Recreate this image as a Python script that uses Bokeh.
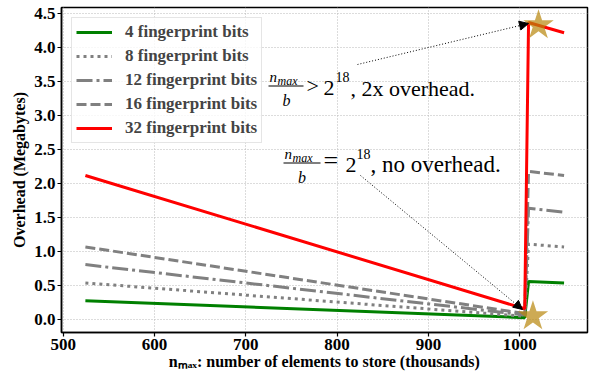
from bokeh.plotting import figure
from bokeh.models import Arrow, NormalHead, FixedTicker, Range1d
from bokeh.core.properties import value
from bokeh.embed import file_html
from bokeh.resources import INLINE

# ---------------- data (n_max in thousands, overhead in MB) ----------------
n_max = [524.3, 1005.5, 1009.7, 1048.6]
bits4 = [0.27, 0.02, 0.55, 0.53]
bits8 = [0.53, 0.04, 1.10, 1.06]
bits12 = [0.80, 0.06, 1.63, 1.57]
bits16 = [1.06, 0.08, 2.17, 2.11]
bits32 = [2.11, 0.15, 4.36, 4.21]
series_labels = ["4 fingerprint bits", "8 fingerprint bits", "12 fingerprint bits",
                 "16 fingerprint bits", "32 fingerprint bits"]
star_x = [1014.5, 1020.6]
star_y = [0.04, 4.32]
x_ticks = [500, 600, 700, 800, 900, 1000]
y_ticks = [0.0, 0.5, 1.0, 1.5, 2.0, 2.5, 3.0, 3.5, 4.0, 4.5]
y_tick_labels = ["0.0", "0.5", "1.0", "1.5", "2.0", "2.5", "3.0", "3.5", "4.0", "4.5"]
x_label = "nₘₐₓ: number of elements to store (thousands)"
y_label = "Overhead (Megabytes)"


# page-pixel -> data helpers (for annotation placement)
def X(px):
    return 500 + (px - 62.7) / 0.913


def Y(py):
    return (318.5 - py) / 68.0


SERIF = "Liberation Serif"

p = figure(width=589, height=374, output_backend="svg", toolbar_location=None,
           x_range=Range1d(X(61), X(587)), y_range=Range1d(Y(332), Y(7)),
           min_border_left=61, min_border_right=2, min_border_top=7, min_border_bottom=42)
p.background_fill_color = "white"
p.border_fill_color = "white"
p.outline_line_color = "black"
p.outline_line_width = 1.5
p.outline_line_alpha = 1.0

styles = [
    (bits4, "#008000", None),
    (bits8, "#808080", "3 4"),
    (bits12, "#808080", "16 4 3 4"),
    (bits16, "#808080", "10 4"),
    (bits32, "#ff0000", None),
]
for (vals, col, dash), lab in zip(styles, series_labels):
    kw = dict(line_color=col, line_width=3, legend_label=lab)
    if dash:
        kw["line_dash"] = dash
    p.line(n_max, vals, **kw)

p.scatter(star_x, star_y, marker="star", size=32, fill_color="darkgoldenrod",
          fill_alpha=0.7, line_color=None)

# axes
for ax in (p.xaxis[0], p.yaxis[0]):
    ax.major_label_text_font = SERIF
    ax.major_label_text_font_style = "bold"
    ax.major_label_text_font_size = "17px"
    ax.major_label_text_color = "black"
    ax.axis_line_color = "black"
    ax.axis_line_width = 1.5
    ax.major_tick_line_color = "black"
    ax.major_tick_line_width = 1.2
    ax.major_tick_out = 4
    ax.major_tick_in = 0
    ax.minor_tick_line_color = None
    ax.axis_label_text_font = SERIF
    ax.axis_label_text_font_style = "bold"
    ax.axis_label_text_font_size = "16px"
    ax.axis_label_text_color = "black"
p.xaxis.ticker = FixedTicker(ticks=x_ticks)
p.yaxis.ticker = FixedTicker(ticks=y_ticks)
p.yaxis.major_label_overrides = {t: s for t, s in zip(y_ticks, y_tick_labels)}
p.xaxis.major_label_standoff = 2
p.yaxis.major_label_standoff = 2
p.xaxis.axis_label = x_label
p.yaxis.axis_label = y_label
p.xaxis.axis_label_standoff = 0
p.yaxis.axis_label_standoff = 3

p.xgrid.ticker = FixedTicker(ticks=x_ticks)
p.ygrid.ticker = FixedTicker(ticks=y_ticks)
for g in (p.xgrid[0], p.ygrid[0]):
    g.grid_line_color = "#b8b8b8"
    g.grid_line_dash = "1 2"
    g.grid_line_width = 1

# legend
lg = p.legend[0]
lg.location = (10, 189)
lg.label_text_font = SERIF
lg.label_text_font_style = "bold"
lg.label_text_font_size = "17px"
lg.glyph_width = 36
lg.glyph_height = 20
lg.label_height = 20
lg.label_width = 128
lg.label_standoff = 13
lg.spacing = 4
lg.padding = 4
lg.margin = 0
lg.border_line_color = "#cccccc"
lg.border_line_width = 1
lg.background_fill_alpha = 0.8


def txt(s, px, base, size, style="normal", align="left"):
    # text is drawn centred on its anchor: place the anchor 0.33 em above the baseline
    py = base - 0.33 * size
    p.text(x=[X(px)], y=[Y(py)], text=[s], text_font=value(SERIF),
           text_font_style=style, text_font_size=f"{size}px",
           text_align=align, text_baseline="alphabetic", text_color="black")


# fraction bars
p.segment(x0=[X(268), X(283)], y0=[Y(85.5), Y(162.5)], x1=[X(303), X(320)],
          y1=[Y(85.5), Y(162.5)], line_color="black", line_width=1.2)

# upper annotation
txt("n", 269, 81.5, 15, style="italic")
txt("max", 277, 84, 12, style="italic")
txt("b", 286, 105, 16, style="italic", align="center")
txt(">", 306, 92, 22)
txt("2", 323, 95, 22)
txt("18", 335, 81, 14)
txt(", 2x overhead.", 350, 95, 22)

# lower annotation
txt("n", 284, 158.5, 15, style="italic")
txt("max", 292, 161, 12, style="italic")
txt("b", 301.5, 182, 16, style="italic", align="center")
txt("=", 323, 169, 26)
txt("2", 345, 172, 22)
txt("18", 356, 158, 14)
txt(", no overhead.", 370, 172, 23)

# arrows
for (x0, y0, x1, y1) in [(357, 64, 528, 23), (360, 175, 522, 309)]:
    p.add_layout(Arrow(x_start=X(x0), y_start=Y(y0), x_end=X(x1), y_end=Y(y1),
                       line_color="black", line_width=1, line_dash="1 2",
                       end=NormalHead(size=9, fill_color="black", line_color="black")))

open("out.html", "w").write(file_html(p, INLINE))
